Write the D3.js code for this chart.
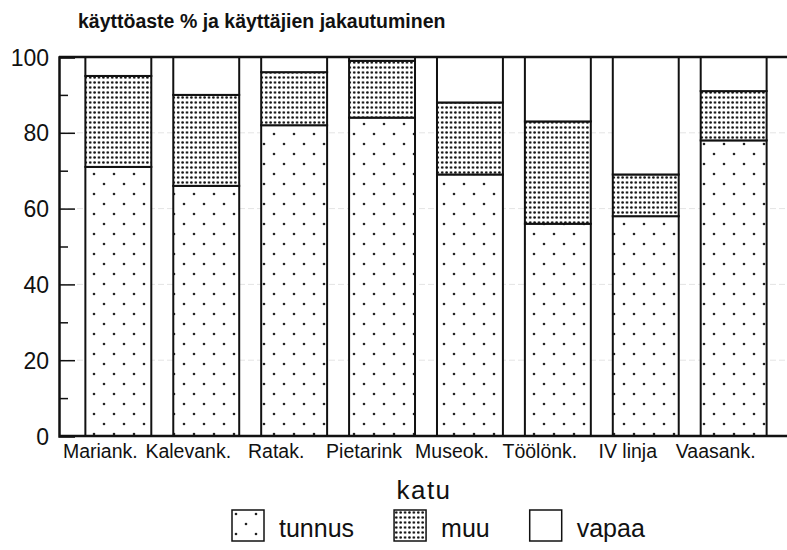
<!DOCTYPE html>
<html>
<head>
<meta charset="utf-8">
<script src="https://cdn.jsdelivr.net/npm/d3@7"></script>
<style>
  body { margin: 0; background: #fff; }
  svg { display: block; font-family: Arial, "Liberation Sans", Helvetica, sans-serif; }
</style>
</head>
<body>
<svg id="chart" width="787" height="550"></svg>
<script>
'use strict';

// kadut
const categories = ['Mariank.', 'Kalevank.', 'Ratak.', 'Pietarink', 'Museok.', 'Töölönk.', 'IV linja', 'Vaasank.'];
// käyttöaste %, osuus per käyttäjäryhmä
const tunnus = [71, 66, 82, 84, 69, 56, 58, 78];
const muu    = [24, 24, 14, 15, 19, 27, 11, 13];
const yTicks = [0, 20, 40, 60, 80, 100];
const seriesKeys = ['tunnus', 'muu', 'vapaa'];
const legendLabels = ['tunnus', 'muu', 'vapaa'];
const title = 'käyttöaste % ja käyttäjien jakautuminen';
const xTitle = 'katu';

const svg = d3.select('#chart');

const rows = categories.map((c, i) => ({
  katu: c,
  tunnus: tunnus[i],
  muu: muu[i],
  vapaa: 100 - tunnus[i] - muu[i]
}));

const stack = d3.stack().keys(seriesKeys)(rows);

const x = d3.scaleBand()
  .domain(categories)
  .range([59, 793])
  .paddingInner(0.25)
  .paddingOuter(0.3);

const y = d3.scaleLinear()
  .domain([0, 100])
  .range([436, 57]);

// patterns
const defs = svg.append('defs');

const pSparse = defs.append('pattern')
  .attr('id', 'p-tunnus')
  .attr('patternUnits', 'userSpaceOnUse')
  .attr('width', 20)
  .attr('height', 20);
pSparse.append('rect').attr('width', 20).attr('height', 20).attr('fill', '#fff');
[[4, 4], [14, 14]].forEach(([cx, cy]) => {
  pSparse.append('circle').attr('cx', cx).attr('cy', cy).attr('r', 1.3).attr('fill', '#222');
});

const pDense = defs.append('pattern')
  .attr('id', 'p-muu')
  .attr('patternUnits', 'userSpaceOnUse')
  .attr('width', 4.4)
  .attr('height', 5);
pDense.append('rect').attr('width', 4.4).attr('height', 5).attr('fill', '#fff');
pDense.append('circle').attr('cx', 2.2).attr('cy', 2.5).attr('r', 1.3).attr('fill', '#111');

const fills = {tunnus: 'url(#p-tunnus)', muu: 'url(#p-muu)', vapaa: '#fff'};

// faint grid
svg.append('g')
  .selectAll('line')
  .data(yTicks.slice(1, -1))
  .join('line')
    .attr('x1', x.range()[0])
    .attr('x2', 787)
    .attr('y1', d => y(d))
    .attr('y2', d => y(d))
    .attr('stroke', '#e4e4e4')
    .attr('stroke-width', 1)
    .attr('stroke-dasharray', '6 3');

// bars
const layers = svg.append('g')
  .selectAll('g')
  .data(stack)
  .join('g')
    .attr('fill', d => fills[d.key]);

layers.selectAll('rect')
  .data(d => d)
  .join('rect')
    .attr('x', d => x(d.data.katu))
    .attr('width', x.bandwidth())
    .attr('y', d => y(d[1]))
    .attr('height', d => y(d[0]) - y(d[1]))
    .attr('stroke', '#111')
    .attr('stroke-width', 2);

// frame
const x0 = x.range()[0];
svg.append('line')
  .attr('x1', x0).attr('x2', 787)
  .attr('y1', y(100)).attr('y2', y(100))
  .attr('stroke', '#111').attr('stroke-width', 2.5);
svg.append('line')
  .attr('x1', x0).attr('x2', 787)
  .attr('y1', y(0)).attr('y2', y(0))
  .attr('stroke', '#111').attr('stroke-width', 2.5);

// y axis, ticks pointing inwards
const yAxis = svg.append('g')
  .attr('transform', 'translate(' + x0 + ',0)')
  .call(d3.axisRight(y).tickValues(d3.range(0, 101, 10)).tickSize(16).tickFormat(d => yTicks.includes(d) ? d : ''));

yAxis.select('.domain').attr('stroke', '#111').attr('stroke-width', 2.5);
yAxis.selectAll('.tick line')
  .attr('stroke', '#111')
  .attr('stroke-width', 1.5)
  .attr('x2', d => d % 20 === 0 ? 16 : 9);
yAxis.selectAll('.tick text')
  .attr('x', -10)
  .attr('text-anchor', 'end')
  .attr('dy', '0.35em')
  .attr('font-size', 23)
  .attr('fill', '#111');

// x axis labels
const xAxis = svg.append('g')
  .attr('transform', 'translate(-18,' + y(0) + ')')
  .call(d3.axisBottom(x).tickSize(0).tickPadding(8));
xAxis.select('.domain').remove();
xAxis.selectAll('.tick text')
  .attr('font-size', 19.5)
  .attr('fill', '#111')
  .attr('dy', '0.71em');

svg.append('text')
  .attr('x', 424)
  .attr('y', 499)
  .attr('text-anchor', 'middle')
  .attr('font-size', 26)
  .attr('letter-spacing', 1.5)
  .attr('fill', '#111')
  .text(xTitle);

// title
svg.append('text')
  .attr('x', 78)
  .attr('y', 28)
  .attr('font-size', 19.5)
  .attr('font-weight', 'bold')
  .attr('fill', '#111')
  .text(title);

// legend: items laid out one after another
const legend = svg.append('g')
  .attr('transform', 'translate(232,510)');

let legendCursor = 0;
seriesKeys.forEach((key, i) => {
  const item = legend.append('g')
    .attr('transform', 'translate(' + legendCursor + ',0)');
  item.append('rect')
    .attr('width', 32)
    .attr('height', 31)
    .attr('fill', fills[key])
    .attr('stroke', '#111')
    .attr('stroke-width', 1.5);
  const label = item.append('text')
    .attr('x', 47)
    .attr('y', 27)
    .attr('font-size', 25)
    .attr('fill', '#111')
    .text(legendLabels[i]);
  legendCursor += 47 + label.node().getComputedTextLength() + 40;
});
</script>
</body>
</html>
